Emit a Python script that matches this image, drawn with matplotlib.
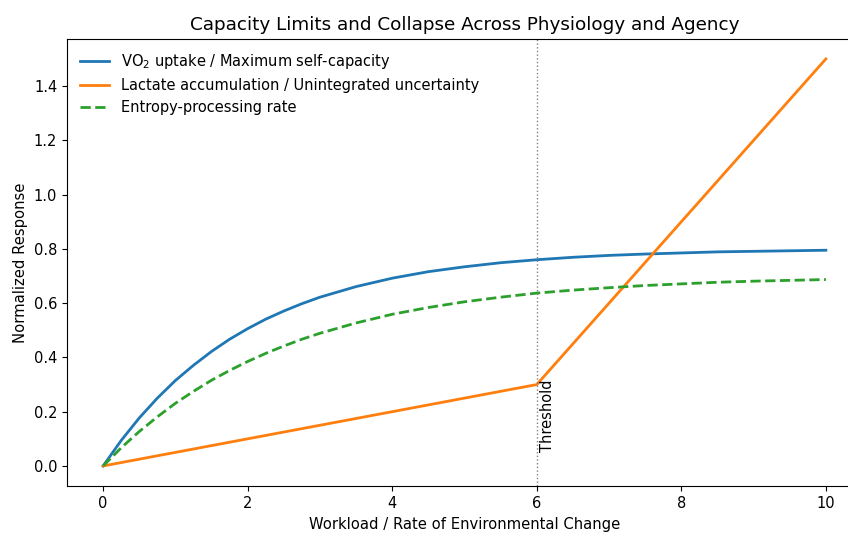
import matplotlib
matplotlib.use("Agg")
import matplotlib.pyplot as plt

x_curve = [0, 0.25, 0.5, 0.75, 1, 1.25, 1.5, 1.75, 2, 2.25, 2.5, 2.75, 3, 3.5, 4,
           4.5, 5, 5.5, 6, 6.5, 7, 7.5, 8, 8.5, 9, 9.5, 10]
vo2 = [0, 0.094, 0.177, 0.250, 0.315, 0.371, 0.422, 0.467, 0.506, 0.541, 0.571,
       0.598, 0.622, 0.661, 0.692, 0.716, 0.734, 0.749, 0.760, 0.769, 0.776,
       0.781, 0.785, 0.789, 0.791, 0.793, 0.795]
entropy = [0, 0.067, 0.127, 0.181, 0.231, 0.275, 0.316, 0.352, 0.385, 0.415,
           0.442, 0.467, 0.489, 0.527, 0.559, 0.584, 0.605, 0.622, 0.637, 0.648,
           0.657, 0.665, 0.671, 0.677, 0.681, 0.684, 0.687]
x_lact = [0, 6, 10]
lactate = [0, 0.3, 1.5]
threshold = 6

fig = plt.figure(figsize=(8.48, 5.33), dpi=100)
ax = fig.add_axes([67 / 848, 0.0876, 795 / 848, 0.840])
ax.plot(x_curve, vo2, color="#1f77b4", lw=2,
        label=r"VO$_2$ uptake / Maximum self-capacity")
ax.plot(x_lact, lactate, color="#ff7f0e", lw=2,
        label="Lactate accumulation / Unintegrated uncertainty")
ax.plot(x_curve, entropy, color="#2ca02c", lw=2, ls="--",
        label="Entropy-processing rate")
ax.axvline(threshold, color="gray", ls=":", lw=1)
ax.text(threshold + 0.05, 0.05, "Threshold", rotation=90, fontsize=10.5,
        va="bottom", ha="left")
ax.set_xlim(-0.5, 10.5)
ax.tick_params(labelsize=10.5)
ax.set_title("Capacity Limits and Collapse Across Physiology and Agency", fontsize=13.2)
ax.set_xlabel("Workload / Rate of Environmental Change", fontsize=10.6)
ax.set_ylabel("Normalized Response", fontsize=10.6)
ax.legend(loc="upper left", frameon=False, fontsize=10.5)
fig.savefig("out.png", dpi=100)
